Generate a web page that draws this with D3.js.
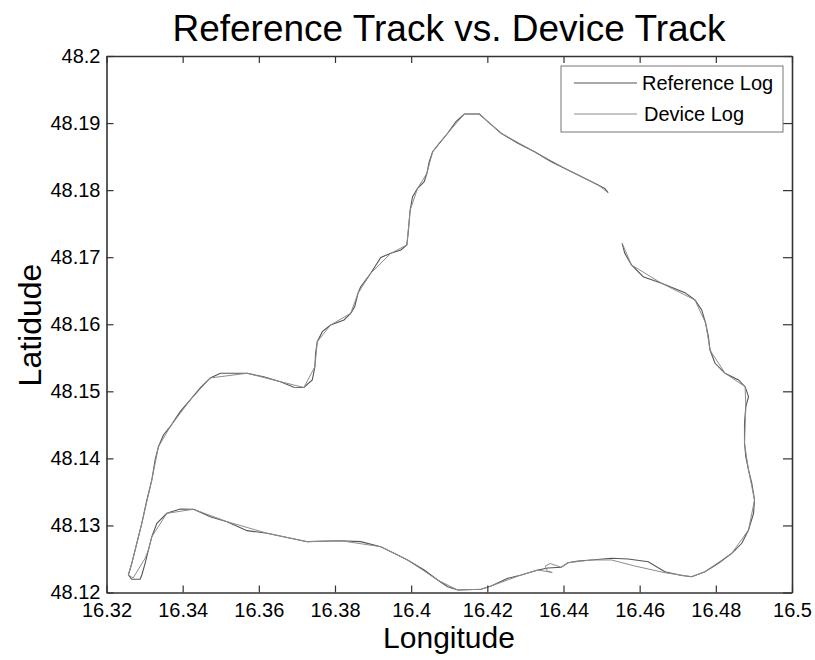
<!DOCTYPE html>
<html>
<head>
<meta charset="utf-8">
<script src="https://cdn.jsdelivr.net/npm/d3@7"></script>
<style>
  body { margin: 0; background: #fff; }
  text { font-family: "Liberation Sans", Arial, sans-serif; }
</style>
</head>
<body>
<div id="chart"></div>
<script>
// ---- data (degrees) ----
var refLon = [16.45540,16.45609,16.45785,16.46093,16.46575,16.47189,16.47452,16.47629,16.47734,16.47805,
  16.47847,16.47979,16.48242,16.48595,16.48769,16.48858,16.48787,16.48753,16.48753,16.48787,
  16.48858,16.48945,16.49016,16.48990,16.48858,16.48682,16.48419,16.48068,16.47716,16.47365,
  16.47102,16.46662,16.46225,16.45698,16.45259,16.44732,16.44382,16.44118,16.43942,16.43592,
  16.43328,16.42889,16.42538,16.42099,16.41835,16.41222,16.40958,16.40695,16.40342,16.39905,
  16.39552,16.39202,16.38675,16.38149,16.37272,16.36832,16.36219,16.35692,16.35165,16.34725,
  16.34286,16.33935,16.33585,16.33322,16.33190,16.33101,16.33014,16.32927,16.32882,16.32664,
  16.32574,16.32664,16.32795,16.32927,16.33059,16.33190,16.33277,16.33364,16.33496,16.33672,
  16.33935,16.34199,16.34462,16.34725,16.34989,16.35692,16.36129,16.36569,16.36919,16.37182,
  16.37404,16.37472,16.37490,16.37535,16.37667,16.37885,16.38236,16.38412,16.38517,16.38604,
  16.38675,16.38939,16.39202,16.39465,16.39729,16.39887,16.39921,16.39974,16.40037,16.40168,
  16.40342,16.40413,16.40474,16.40564,16.40737,16.40958,16.41177,16.41396,16.41791,16.42012,
  16.42362,16.42802,16.43239,16.43679,16.44118,16.44556,16.44908,16.45082,16.45172];
var refLat = [48.17207,48.17058,48.16884,48.16709,48.16611,48.16471,48.16362,48.16213,48.16014,48.15815,
  48.15616,48.15418,48.15269,48.15169,48.15069,48.14920,48.14771,48.14523,48.14225,48.14025,
  48.13827,48.13628,48.13379,48.13181,48.12932,48.12734,48.12585,48.12435,48.12310,48.12236,
  48.12254,48.12310,48.12459,48.12500,48.12510,48.12485,48.12470,48.12444,48.12376,48.12365,
  48.12336,48.12261,48.12212,48.12097,48.12048,48.12037,48.12086,48.12186,48.12336,48.12485,
  48.12585,48.12683,48.12758,48.12772,48.12758,48.12808,48.12883,48.12922,48.13056,48.13130,
  48.13241,48.13245,48.13181,48.13032,48.12832,48.12634,48.12435,48.12261,48.12197,48.12197,
  48.12261,48.12435,48.12734,48.13032,48.13379,48.13678,48.13976,48.14174,48.14349,48.14472,
  48.14696,48.14871,48.15050,48.15199,48.15269,48.15269,48.15218,48.15143,48.15060,48.15057,
  48.15169,48.15367,48.15567,48.15740,48.15889,48.15989,48.16064,48.16163,48.16262,48.16462,
  48.16560,48.16760,48.16996,48.17058,48.17107,48.17182,48.17356,48.17704,48.17902,48.18027,
  48.18126,48.18251,48.18424,48.18573,48.18698,48.18848,48.19021,48.19135,48.19135,48.19021,
  48.18848,48.18698,48.18573,48.18424,48.18300,48.18177,48.18077,48.18027,48.17962];

var devLon = [16.45540,16.45785,16.46575,16.47452,16.47734,16.47847,16.48242,16.48769,16.48787,16.48753,
  16.48858,16.49016,16.48858,16.48419,16.47716,16.47365,16.46662,16.45872,16.45259,16.44732,
  16.44118,16.43942,16.43652,16.43521,16.43573,16.43705,16.43328,16.42889,16.42099,16.41835,
  16.41222,16.40695,16.39905,16.39202,16.38149,16.37272,16.36219,16.35165,16.34286,16.33585,
  16.33190,16.33101,16.33014,16.32698,16.32574,16.32664,16.32927,16.33190,16.33364,16.33672,
  16.34199,16.34725,16.35692,16.36569,16.37182,16.37472,16.37535,16.37885,16.38412,16.38604,
  16.38939,16.39465,16.39887,16.39974,16.40168,16.40413,16.40564,16.40958,16.41396,16.41791,
  16.42362,16.43239,16.44118,16.44908,16.45172];
var devLat = [48.17207,48.16884,48.16611,48.16362,48.16014,48.15616,48.15269,48.15069,48.14771,48.14225,
  48.13827,48.13379,48.12932,48.12585,48.12310,48.12236,48.12295,48.12395,48.12485,48.12485,
  48.12444,48.12376,48.12432,48.12395,48.12321,48.12298,48.12336,48.12261,48.12097,48.12048,
  48.12037,48.12186,48.12485,48.12683,48.12772,48.12758,48.12883,48.13056,48.13241,48.13181,
  48.12832,48.12634,48.12510,48.12216,48.12261,48.12435,48.13032,48.13678,48.14174,48.14472,
  48.14871,48.15199,48.15269,48.15143,48.15057,48.15367,48.15740,48.15989,48.16163,48.16462,
  48.16760,48.17058,48.17182,48.17704,48.18027,48.18251,48.18573,48.18848,48.19135,48.19135,
  48.18848,48.18573,48.18300,48.18077,48.17962];

var xTicks = [16.32, 16.34, 16.36, 16.38, 16.40, 16.42, 16.44, 16.46, 16.48, 16.50];
var xTickLabels = ["16.32","16.34","16.36","16.38","16.4","16.42","16.44","16.46","16.48","16.5"];
var yTicks = [48.12, 48.13, 48.14, 48.15, 48.16, 48.17, 48.18, 48.19, 48.20];
var yTickLabels = ["48.12","48.13","48.14","48.15","48.16","48.17","48.18","48.19","48.2"];
var seriesNames = ["Reference Log", "Device Log"];

var width = 815, height = 660;
var plotLeft = 106.5, plotRight = 792, plotTop = 56, plotBottom = 592.5;

var svg = d3.select("#chart").append("svg")
    .attr("width", width)
    .attr("height", height);

var x = d3.scaleLinear().domain([16.32, 16.5]).range([plotLeft, plotRight]);
var y = d3.scaleLinear().domain([48.12, 48.2]).range([plotBottom, plotTop]);

var refColor = "#555555", devColor = "#8c8c8c";

// tracks
var line = d3.line().x(d => x(d[0])).y(d => y(d[1]));
var refPts = refLon.map((v, i) => [v, refLat[i]]);
var devPts = devLon.map((v, i) => [v, devLat[i]]);

svg.append("path").datum(refPts)
    .attr("d", line).attr("fill", "none")
    .attr("stroke", refColor).attr("stroke-width", 1.1);
svg.append("path").datum(devPts)
    .attr("d", line).attr("fill", "none")
    .attr("stroke", devColor).attr("stroke-width", 1);

// axes (box, ticks inward)
function styleAxis(g) {
    g.select(".domain").attr("stroke", "#333").attr("stroke-width", 1.6);
    g.selectAll(".tick line").attr("stroke", "#333").attr("stroke-width", 1.2);
    g.selectAll(".tick text").attr("fill", "#000")
        .style("font-size", "20px").style("font-family", "Liberation Sans, Arial, sans-serif");
}

svg.append("g")
    .attr("transform", "translate(0," + plotBottom + ")")
    .call(d3.axisBottom(x).tickValues(xTicks)
        .tickFormat((d, i) => xTickLabels[i])
        .tickSizeInner(-7).tickSizeOuter(0).tickPadding(10))
    .call(styleAxis);

svg.append("g")
    .attr("transform", "translate(0," + plotTop + ")")
    .call(d3.axisTop(x).tickValues(xTicks).tickFormat("")
        .tickSizeInner(-7).tickSizeOuter(0))
    .call(styleAxis);

svg.append("g")
    .attr("transform", "translate(" + plotLeft + ",0)")
    .call(d3.axisLeft(y).tickValues(yTicks)
        .tickFormat((d, i) => yTickLabels[i])
        .tickSizeInner(-7).tickSizeOuter(0).tickPadding(6))
    .call(styleAxis);

svg.append("g")
    .attr("transform", "translate(" + plotRight + ",0)")
    .call(d3.axisRight(y).tickValues(yTicks).tickFormat("")
        .tickSizeInner(-9).tickSizeOuter(0))
    .call(styleAxis);

// legend
var lg = svg.append("g").attr("transform", "translate(561,66)");
lg.append("rect")
    .attr("width", 222).attr("height", 66)
    .attr("fill", "#fff").attr("stroke", "#777").attr("stroke-width", 1);
[refColor, devColor].forEach(function(c, i) {
    lg.append("line")
        .attr("x1", 13).attr("x2", 76)
        .attr("y1", 17 + i * 31).attr("y2", 17 + i * 31)
        .attr("stroke", c).attr("stroke-width", 1.1);
    lg.append("text")
        .attr("x", i == 0 ? 81 : 83).attr("y", 24 + i * 31)
        .attr("font-size", 20)
        .text(seriesNames[i]);
});

// title and axis labels
svg.append("text")
    .attr("x", 449).attr("y", 41)
    .attr("text-anchor", "middle")
    .attr("font-size", 37)
    .text("Reference Track vs. Device Track");

svg.append("text")
    .attr("x", 449).attr("y", 648)
    .attr("text-anchor", "middle")
    .attr("font-size", 30)
    .text("Longitude");

svg.append("text")
    .attr("transform", "translate(41,325) rotate(-90)")
    .attr("text-anchor", "middle")
    .attr("font-size", 32)
    .text("Latidude");
</script>
</body>
</html>
